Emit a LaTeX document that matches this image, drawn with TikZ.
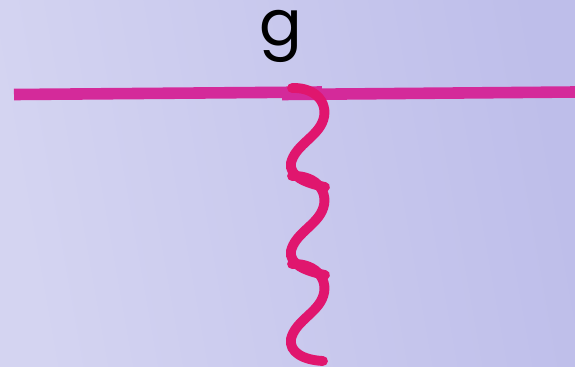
\documentclass[tikz,border=0pt]{standalone}
\usepackage{fontspec}
\setmainfont{Poppins}
\usetikzlibrary{positioning}

\definecolor{bgleft}{RGB}{212,212,241}
\definecolor{bgright}{RGB}{190,190,234}
\definecolor{fermion}{RGB}{212,42,154}
\definecolor{gluon}{RGB}{224,22,110}

\begin{document}
\begin{tikzpicture}[
    x=0.02cm, y=-0.02cm,
    quark/.style={draw=fermion, line width=6.6pt, line cap=butt},
    wiggle/.style={draw=gluon, line width=5.6pt, line cap=round},
    label/.style={font=\fontsize{36}{40}\selectfont, text=black, inner sep=0pt}
]

% Background
\shade[left color=bgleft, right color=bgright, shading angle=100] (0,0) rectangle (575,366);
\useasboundingbox (0,0) rectangle (575,366);

% Label and line end points
\node[label, anchor=base] (glabel) at (281,45) {g};
\coordinate (leftend) at (14,94.5);
\coordinate (leftstop) at (322,92);
\coordinate (rightstart) at (282,94.5);
\coordinate (rightend) at (575,92);

% Horizontal line, drawn in two overlapping strokes
\draw[quark] (leftend) -- (leftstop);
\draw[quark] (rightstart) -- (rightend);

% Wavy line hanging from the horizontal one
\foreach \Y in {88,176} {
  \draw[wiggle] (292,\Y) .. controls (318,\Y-1) and (330,\Y+18) .. (322,\Y+35)
    .. controls (315,\Y+50) and (295,\Y+58) .. (291,\Y+75)
    .. controls (289,\Y+88) and (305,\Y+95) .. (325,\Y+99);
}
\draw[wiggle] (292,264) .. controls (318,263) and (330,282) .. (322,299)
  .. controls (315,314) and (295,322) .. (291,339)
  .. controls (289,352) and (303,360) .. (323,361);

\end{tikzpicture}
\end{document}
